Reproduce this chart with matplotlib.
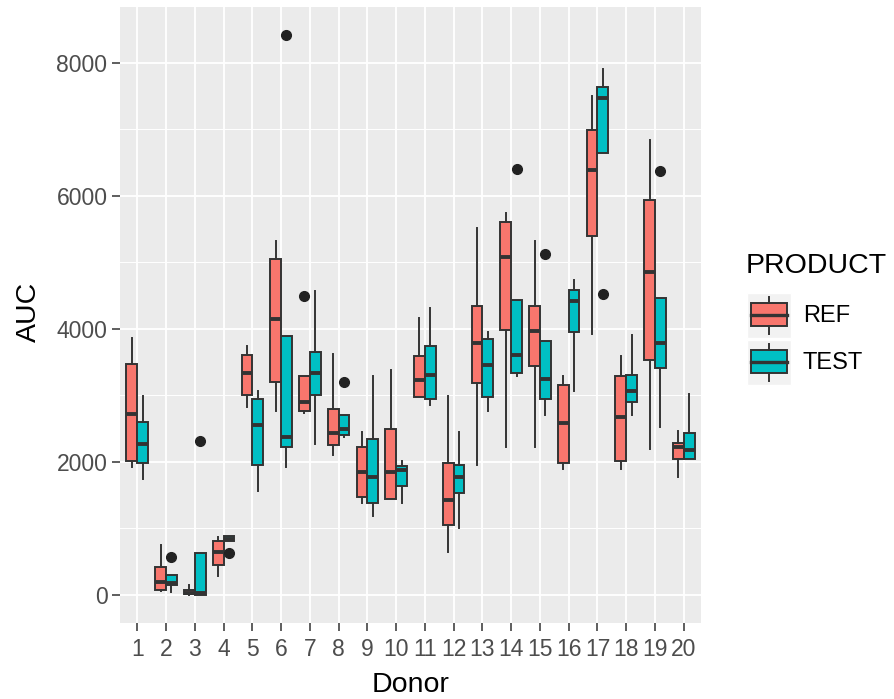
import matplotlib
matplotlib.use("Agg")
import matplotlib.pyplot as plt
from matplotlib.patches import Rectangle
from matplotlib.lines import Line2D

plt.rcParams["font.family"] = ["Liberation Sans", "DejaVu Sans"]

donors = [str(i) for i in range(1, 21)]
products = ["REF", "TEST"]
colors = {"REF": "#F8766D", "TEST": "#00BFC4"}

# box statistics: lower whisker, q1, median, q3, upper whisker
ref_lo = [1921, 60, 0, 290, 2826, 2769, 2740, 2105, 1384, 1442,
          2982, 646, 1950, 2221, 2221, 1892, 3922, 1892, 2192, 1771]
ref_q1 = [2019, 70, 10, 444, 3011, 3201, 2769, 2261, 1471, 1442,
          2982, 1050, 3190, 3980, 3443, 1978, 5405, 2019, 3536, 2048]
ref_med = [2722, 190, 30, 646, 3334, 4153, 2896, 2434, 1857, 1857,
           3230, 1430, 3790, 5087, 3968, 2584, 6385, 2671, 4857, 2221]
ref_q3 = [3472, 415, 80, 808, 3616, 5047, 3288, 2798, 2221, 2498,
          3588, 1990, 4343, 5612, 4343, 3161, 6997, 3288, 5941, 2290]
ref_hi = [3865, 750, 150, 865, 3749, 5318, 3288, 3628, 2451, 3386,
          4170, 2988, 5526, 5739, 5318, 3288, 7498, 3593, 6835, 2469]
ref_out = [[], [], [], [], [], [], [4499], [], [], [],
           [], [], [], [], [], [], [], [], [], []]

test_lo = [1742, 46, 0, 808, 1557, 1921, 2278, 2376, 1194, 1384,
           2855, 1009, 2769, 3288, 2711, 3069, 6645, 2711, 2526, 2048]
test_q1 = [1990, 144, 0, 808, 1961, 2232, 3011, 2411, 1384, 1632,
           2953, 1529, 2982, 3345, 2953, 3951, 6645, 2896, 3415, 2048]
test_med = [2278, 173, 30, 848, 2549, 2376, 3334, 2492, 1777, 1875,
            3305, 1777, 3461, 3605, 3247, 4424, 7469, 3074, 3790, 2180]
test_q3 = [2596, 300, 635, 894, 2953, 3893, 3651, 2711, 2348, 1944,
           3738, 1950, 3853, 4430, 3824, 4586, 7637, 3305, 4459, 2440]
test_hi = [2988, 300, 635, 894, 3074, 3893, 4568, 2711, 3288, 2019,
           4315, 2451, 3951, 4430, 3824, 4741, 7914, 3905, 4459, 3017]
test_out = [[], [565], [2319], [634], [], [8421], [], [3201], [], [],
            [], [], [], [6402], [5134], [], [4528], [], [6374], []]

series = {
    "REF": (ref_lo, ref_q1, ref_med, ref_q3, ref_hi, ref_out),
    "TEST": (test_lo, test_q1, test_med, test_q3, test_hi, test_out),
}

W, H = 895, 699
EDGE = "#333333"


def px(x, y):
    return x / W, 1 - y / H


fig = plt.figure(figsize=(W / 100, H / 100), dpi=100, facecolor="white")
ax = fig.add_axes([120 / W, (H - 623) / H, 581 / W, 616 / H])
ax.set_facecolor("#EBEBEB")

dodge = 0.1875
box_w = 0.375
for k, prod in enumerate(products):
    lo, q1, med, q3, hi, out = series[prod]
    stats = [
        {"whislo": lo[i], "q1": q1[i], "med": med[i], "q3": q3[i],
         "whishi": hi[i], "fliers": out[i]}
        for i in range(len(donors))
    ]
    pos = [i + 1 + (dodge if k else -dodge) for i in range(len(donors))]
    ax.bxp(
        stats, positions=pos, widths=box_w, patch_artist=True, showcaps=False,
        boxprops=dict(facecolor=colors[prod], edgecolor=EDGE, linewidth=1.4),
        medianprops=dict(color=EDGE, linewidth=2.8, solid_capstyle="butt"),
        whiskerprops=dict(color=EDGE, linewidth=1.4),
        flierprops=dict(marker="o", markerfacecolor="#222222",
                        markeredgecolor="#222222", markersize=7),
        manage_ticks=False, zorder=3,
    )

vals = ref_lo + test_lo + ref_hi + test_hi + sum(ref_out + test_out, [])
vmin, vmax = min(vals), max(vals)
span = vmax - vmin
ax.set_ylim(vmin - 0.05 * span, vmax + 0.05 * span)
ax.set_xlim(0.4, len(donors) + 0.6)

ax.set_xticks(range(1, len(donors) + 1))
ax.set_xticklabels(donors)
ax.set_yticks([0, 2000, 4000, 6000, 8000])
ax.set_yticks([1000, 3000, 5000, 7000], minor=True)
ax.grid(which="major", color="white", linewidth=1.3, zorder=0)
ax.grid(which="minor", axis="y", color="white", linewidth=0.7, zorder=0)
ax.set_axisbelow(True)
for s in ax.spines.values():
    s.set_visible(False)
ax.tick_params(which="major", length=5.5, width=1.1, color=EDGE,
               labelsize=16.5, labelcolor="#4D4D4D", pad=3.5)
ax.tick_params(axis="x", pad=5)
ax.tick_params(which="minor", length=0)

fig.text(*px(411, 685), "Donor", fontsize=20.5, ha="center", va="center")
fig.text(*px(29, 312), "AUC", fontsize=20.5, ha="center", va="center",
         rotation=90)

# legend
fig.text(*px(746, 266), "PRODUCT", fontsize=20.5, ha="left", va="center")
for k, prod in enumerate(products):
    y0 = 293 + k * 47
    fig.add_artist(Rectangle(px(747, y0 + 45), 44 / W, 45 / H,
                             transform=fig.transFigure, facecolor="#F2F2F2",
                             edgecolor="white", linewidth=1))
    fig.add_artist(Rectangle(px(751, y0 + 33), 36 / W, 23 / H,
                             transform=fig.transFigure,
                             facecolor=colors[prod], edgecolor=EDGE,
                             linewidth=1.4))
    xs = [px(751, 0)[0], px(787, 0)[0]]
    ym = px(0, y0 + 22)[1]
    fig.add_artist(Line2D(xs, [ym, ym], transform=fig.transFigure,
                          color=EDGE, linewidth=2.4))
    xc = px(769, 0)[0]
    fig.add_artist(Line2D([xc, xc], [px(0, y0 + 4)[1], px(0, y0 + 10)[1]],
                          transform=fig.transFigure, color=EDGE, linewidth=1.4))
    fig.add_artist(Line2D([xc, xc], [px(0, y0 + 33)[1], px(0, y0 + 41)[1]],
                          transform=fig.transFigure, color=EDGE, linewidth=1.4))
    fig.text(*px(803, y0 + 23), prod, fontsize=17, ha="left", va="center")

fig.savefig("out.png", dpi=100, facecolor="white")
